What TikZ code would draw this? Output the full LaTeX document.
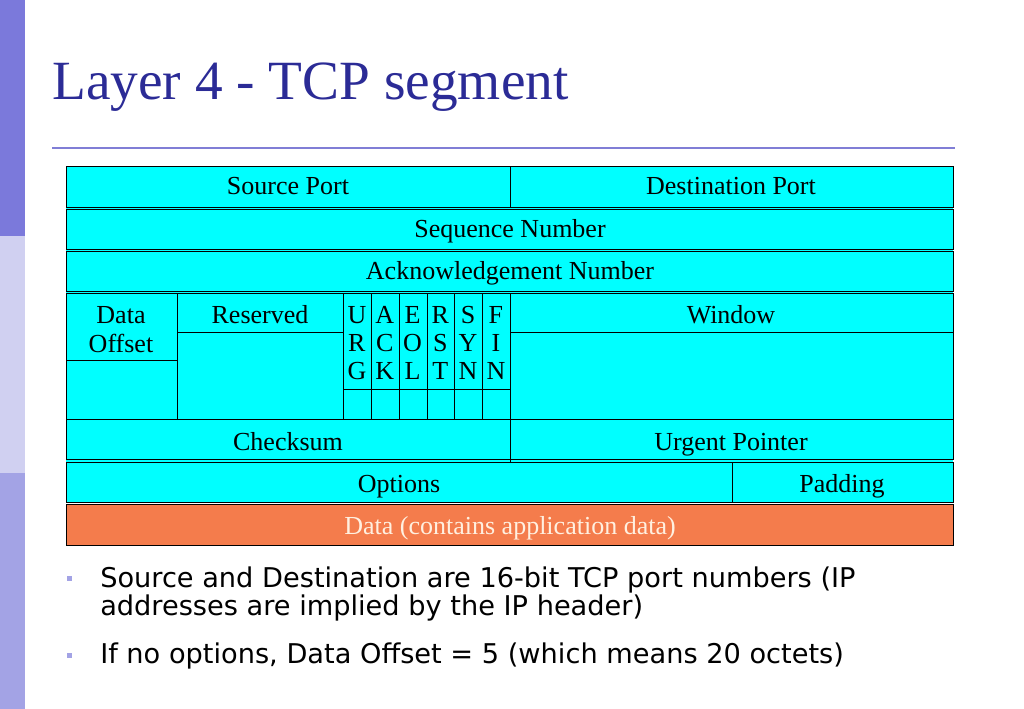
\documentclass[tikz,border=0pt]{standalone}
\usepackage{fontspec}
\setmainfont{Liberation Serif}
\newfontfamily\bulletfont{DejaVu Sans}
\usepackage{xcolor}
\usetikzlibrary{positioning}
\definecolor{barTop}{RGB}{123,121,219}
\definecolor{barMid}{RGB}{208,208,241}
\definecolor{barLow}{RGB}{163,163,229}
\definecolor{titleBlue}{RGB}{43,43,150}
\definecolor{ruleBlue}{RGB}{128,126,214}
\definecolor{fieldCyan}{RGB}{0,255,255}
\definecolor{dataOrange}{RGB}{244,124,76}

\begin{document}
\begin{tikzpicture}[
			     x=0.75pt, y=-0.75pt,
			     field/.style={draw=black, line width=0.6pt, fill=fieldCyan},
			     split/.style={draw=black, line width=0.6pt},
			     lbl/.style={anchor=base, inner sep=0pt, font=\fontsize{19.5}{21}\selectfont},
			     bullettext/.style={anchor=base west, inner sep=0pt, font=\bulletfont\fontsize{20.4}{24}\selectfont}
			     ]
\useasboundingbox (0,0) rectangle (1024,709);
% side bar
\fill[barTop] (0,0) rectangle (25,236);
\fill[barMid] (0,236) rectangle (25,473);
\fill[barLow] (0,473) rectangle (25,709);
%
\node[anchor=base west, inner sep=0pt, text=titleBlue, font=\fontsize{41.5}{48}\selectfont] (title) at (52,100) {Layer 4 - TCP segment};
\draw[ruleBlue, line width=1.5pt] (52,148) -- (955,148);
%
% header rows
\fill[fieldCyan] (66,166) rectangle (953,502);
\path[field] (66,166) rectangle (510,207);
\path[field] (510,166) rectangle (953,207);
\path[field] (66,209) rectangle (953,249);
\path[field] (66,251) rectangle (953,291);
\path[field] (66,293) rectangle (953,419);
\path[field] (66,419) rectangle (510,459);
\path[field] (510,419) rectangle (953,459);
\path[field] (66,462) rectangle (732,502);
\path[field] (732,462) rectangle (953,502);
\path[field, fill=dataOrange] (66,504) rectangle (953,545);
%
% inner lines of the flags row
\foreach \x in {177,343,371,399,427,454,482,510}
  \path[split] (\x,293) -- (\x,419);
\path[split] (510,459) -- (510,462);
\path[split] (66,360) -- (177,360);
\path[split] (177,332) -- (343,332);
\path[split] (343,389) -- (510,389);
\path[split] (510,332) -- (953,332);
%
\node[lbl] (srcport) at (288,195) {Source Port};
\node[lbl] (dstport) at (731,195) {Destination Port};
\node[lbl] (seqnum) at (510,238) {Sequence Number};
\node[lbl] (acknum) at (510,280) {Acknowledgement Number};
\node[lbl] (offset) at (121,323) {Data};
\node[lbl] (offset2) at (121,352) {Offset};
\node[lbl] (reserved) at (260,323) {Reserved};
\node[lbl] (window) at (731,323) {Window};
\foreach \f/\a/\b/\c [count=\i] in {urg/U/R/G,ack/A/C/K,eol/E/O/L,rst/R/S/T,syn/S/Y/N,fin/F/I/N}
{
  \node[lbl] (\f-1) at (343+27.8*\i-13.9,323) {\a};
  \node[lbl] (\f-2) at (343+27.8*\i-13.9,351) {\b};
  \node[lbl] (\f-3) at (343+27.8*\i-13.9,379) {\c};
}
\node[lbl] (checksum) at (288,450) {Checksum};
\node[lbl] (urgent) at (731,450) {Urgent Pointer};
\node[lbl] (options) at (399,492) {Options};
\node[lbl] (padding) at (842,492) {Padding};
\node[lbl, text=white!88!orange] (data) at (510,534) {Data (contains application data)};
%
% notes
\fill[barLow] (67,576) rectangle (72,581);
\fill[barLow] (67,653) rectangle (72,658);
\node[bullettext] (note1) at (100,587) {Source and Destination are 16-bit TCP port numbers (IP};
\node[bullettext] (note2) at (100,615) {addresses are implied by the IP header)};
\node[bullettext] (note3) at (100,663) {If no options, Data Offset = 5 (which means 20 octets)};
\end{tikzpicture}
\end{document}
